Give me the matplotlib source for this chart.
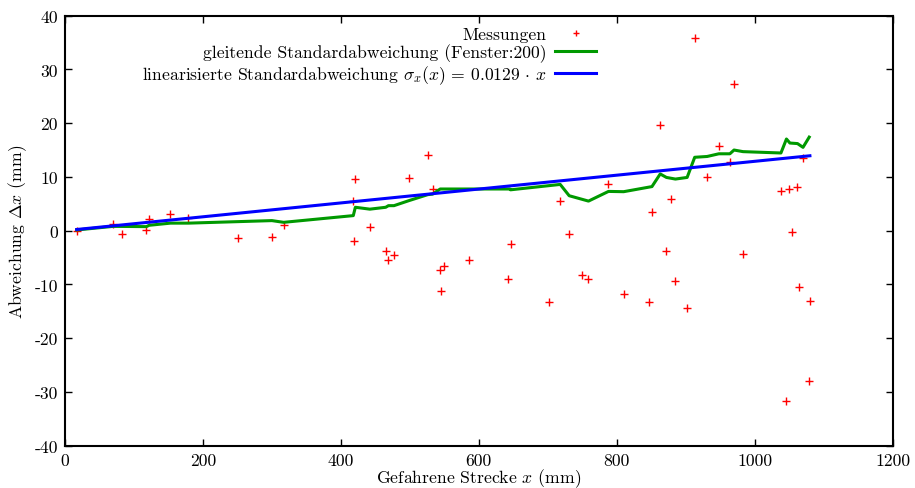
import matplotlib
matplotlib.use("Agg")
import matplotlib.pyplot as plt
import numpy as np

plt.rcParams['font.family'] = ['cmr10', 'DejaVu Serif']
plt.rcParams['mathtext.fontset'] = 'cm'
plt.rcParams['axes.unicode_minus'] = False
plt.rcParams['axes.formatter.use_mathtext'] = False

# Messungen (Strecke in mm, Abweichung in mm)
mess_x = [17, 70, 82, 117, 122, 153, 179, 251, 300, 317, 418, 421, 419, 442,
          466, 469, 477, 499, 526, 533, 543, 549, 545, 586, 646, 642, 702,
          718, 731, 750, 759, 788, 810, 847, 851, 863, 871, 879, 885, 902,
          913, 931, 948, 964, 970, 983, 1038, 1046, 1049, 1054, 1062, 1064,
          1070, 1078, 1080]
mess_y = [-0.1, 1.25, -0.7, 0.1, 2.1, 3.05, 2.4, -1.3, -1.2, 1.0, 5.5, 9.6, -2.0, 0.6,
          -3.8, -5.4, -4.5, 9.8, 14.1, 7.8, -7.3, -6.5, -11.3, -5.45, -2.5, -8.9, -13.2,
          5.5, -0.7, -8.2, -8.9, 8.6, -11.7, -13.3, 3.5, 19.7, -3.8, 5.8, -9.4, -14.4,
          35.8, 9.9, 15.8, 12.8, 27.2, -4.3, 7.3, -31.7, 7.8, -0.3, 8.1, -10.4,
          13.6, -28.0, -13.1]

# gleitende Standardabweichung
std_x = [17, 70, 118, 122, 153, 179, 300, 317, 418, 421, 442, 465, 469, 477, 499,
         526, 533, 544, 645, 646, 718, 731, 759, 788, 810, 851, 863, 872, 885,
         902, 913, 931, 948, 964, 970, 983, 1038, 1046, 1051, 1062, 1070, 1079]
std_y = [0.13, 0.8, 0.75, 1.0, 1.4, 1.4, 1.87, 1.55, 2.8, 4.35, 4.0, 4.35, 4.65, 4.65, 5.6,
         6.7, 6.8, 7.75, 7.75, 7.6, 8.6, 6.5, 5.5, 7.3, 7.25, 8.2, 10.55, 9.9, 9.6,
         9.9, 13.65, 13.8, 14.3, 14.3, 15.0, 14.7, 14.45, 17.05, 16.3, 16.2, 15.5, 17.4]

slope = 0.0129
lin_x = np.array([min(mess_x), max(mess_x)])
lin_y = slope * lin_x

fs = 12.7

fig = plt.figure(figsize=(9.15, 4.89), dpi=100)
ax = fig.add_axes([0.071, 0.0865, 0.9046, 0.8795])

ax.plot(mess_x, mess_y, '+', color='red', markersize=6, markeredgewidth=1.0,
        label='Messungen')
ax.plot(std_x, std_y, color='#009900', lw=2.2,
        label='gleitende Standardabweichung (Fenster:200)')
ax.plot(lin_x, lin_y, color='#0000ff', lw=2.2,
        label=r'linearisierte Standardabweichung $\sigma_x(x)\,=\,0.0129\,\cdot\,x$')

ax.set_xlim(0, 1200)
ax.set_ylim(-40, 40)
ax.set_xticks(np.arange(0, 1201, 200))
ax.set_yticks(np.arange(-40, 41, 10))
ax.tick_params(direction='in', length=5, width=1, top=True, right=True,
               labelsize=fs, pad=5)
for s in ax.spines.values():
    s.set_linewidth(1.5)

ax.set_xlabel(r'Gefahrene Strecke $x$ (mm)', fontsize=fs, labelpad=-1)
ax.set_ylabel(r'Abweichung $\Delta x$ (mm)', fontsize=fs, labelpad=4)

ax.legend(loc='upper right', bbox_to_anchor=(0.659, 0.958),
          bbox_transform=fig.transFigure, frameon=False, markerfirst=False,
          fontsize=fs, handlelength=2.3, handletextpad=0.5, labelspacing=0.08,
          borderaxespad=0, markerscale=0.8)

fig.savefig('out.png', dpi=100)
